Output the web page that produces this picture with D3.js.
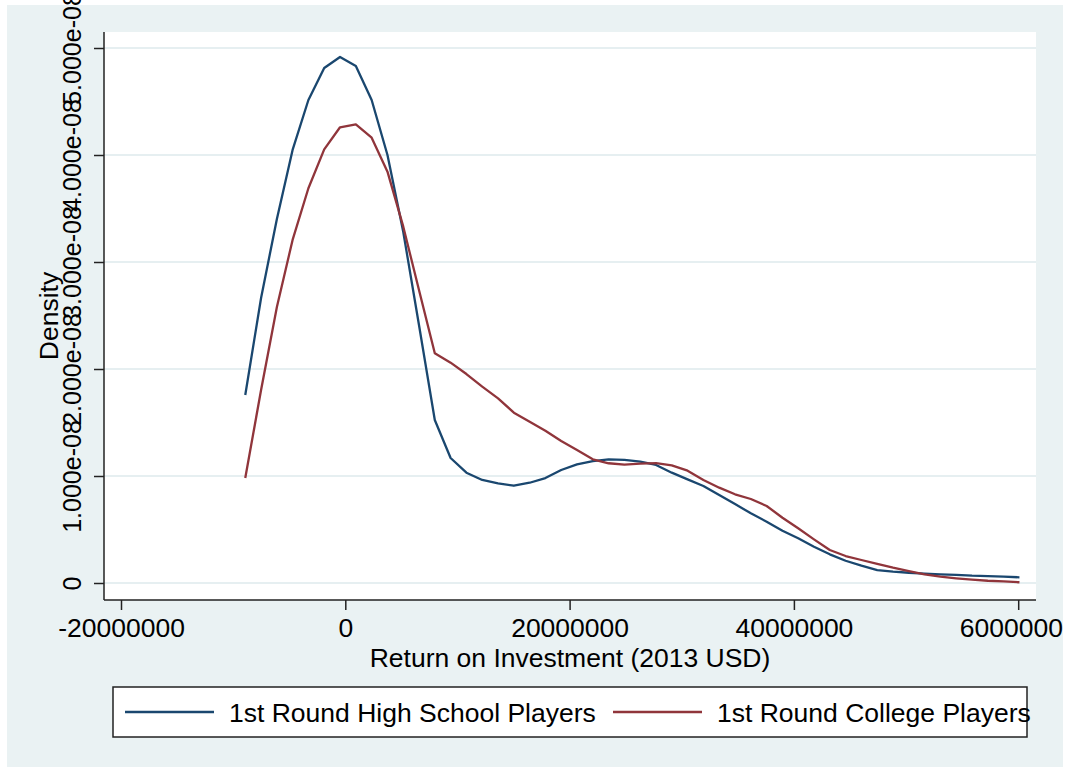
<!DOCTYPE html>
<html>
<head>
<meta charset="utf-8">
<script src="https://cdn.jsdelivr.net/npm/d3@7"></script>
<style>
  html, body { margin: 0; padding: 0; background: #ffffff; }
  svg { display: block; }
  text { font-family: "Liberation Sans", Arial, Helvetica, sans-serif; fill: #000; }
</style>
</head>
<body>
<svg id="chart" width="1071" height="771"></svg>
<script>
// ---- data ----
const roiGrid = [
  -8920000, -7510000, -6100000, -4700000, -3290000, -1880000, -470000, 940000, 2350000, 3760000,
  5170000, 6570000, 7980000, 9390000, 10800000, 12210000, 13620000, 15030000, 16440000, 17840000,
  19250000, 20660000, 22070000, 23480000, 24890000, 26300000, 27710000, 29110000, 30520000, 31930000,
  33340000, 34750000, 36160000, 37570000, 38980000, 40380000, 41790000, 43200000, 44610000, 46020000,
  47430000, 48840000, 50250000, 51650000, 53060000, 54470000, 55880000, 57290000, 58700000, 60110000
];
const highSchoolDensity = [
  1.757e-8, 2.664e-8, 3.402e-8, 4.047e-8, 4.514e-8, 4.813e-8, 4.916e-8, 4.832e-8, 4.514e-8, 4.000e-8,
  3.280e-8, 2.411e-8, 1.523e-8, 1.168e-8, 1.031e-8, 0.963e-8, 0.932e-8, 0.909e-8, 0.937e-8, 0.981e-8,
  1.056e-8, 1.109e-8, 1.140e-8, 1.156e-8, 1.150e-8, 1.134e-8, 1.103e-8, 1.031e-8, 0.969e-8, 0.907e-8,
  0.822e-8, 0.738e-8, 0.651e-8, 0.573e-8, 0.489e-8, 0.418e-8, 0.339e-8, 0.268e-8, 0.208e-8, 0.162e-8,
  0.121e-8, 0.106e-8, 0.096e-8, 0.087e-8, 0.081e-8, 0.075e-8, 0.068e-8, 0.065e-8, 0.059e-8, 0.053e-8
];
const collegeDensity = [
  0.981e-8, 1.804e-8, 2.579e-8, 3.206e-8, 3.689e-8, 4.053e-8, 4.259e-8, 4.287e-8, 4.162e-8, 3.844e-8,
  3.330e-8, 2.738e-8, 2.147e-8, 2.059e-8, 1.953e-8, 1.835e-8, 1.726e-8, 1.592e-8, 1.507e-8, 1.423e-8,
  1.327e-8, 1.243e-8, 1.156e-8, 1.119e-8, 1.106e-8, 1.115e-8, 1.121e-8, 1.100e-8, 1.050e-8, 0.963e-8,
  0.891e-8, 0.829e-8, 0.785e-8, 0.720e-8, 0.610e-8, 0.511e-8, 0.408e-8, 0.308e-8, 0.252e-8, 0.215e-8,
  0.178e-8, 0.143e-8, 0.112e-8, 0.081e-8, 0.059e-8, 0.044e-8, 0.031e-8, 0.021e-8, 0.016e-8, 0.007e-8
];
const seriesNames = ["1st Round High School Players", "1st Round College Players"];
const seriesColors = ["#1a476f", "#90353b"];
const xTicks = [-20000000, 0, 20000000, 40000000, 60000000];
const xTickLabels = ["-20000000", "0", "20000000", "40000000", "60000000"];
const yTicks = [0, 1e-8, 2e-8, 3e-8, 4e-8, 5e-8];
const yTickLabels = ["0", "1.000e-08", "2.000e-08", "3.000e-08", "4.000e-08", "5.000e-08"];
const xTitle = "Return on Investment (2013 USD)";
const yTitle = "Density";

// ---- layout ----
const svg = d3.select("#chart");
const bg = { x: 7, y: 5, w: 1056, h: 762 };
const plot = { left: 104, right: 1036, top: 32, bottom: 600 };
const fs = 26.5;

svg.append("defs").append("clipPath").attr("id", "bgclip")
  .append("rect").attr("x", 0).attr("y", 0).attr("width", bg.x + bg.w).attr("height", 771);

svg.append("rect").attr("x", bg.x).attr("y", bg.y).attr("width", bg.w).attr("height", bg.h)
  .attr("fill", "#eaf2f3");
svg.append("rect").attr("x", plot.left).attr("y", plot.top)
  .attr("width", plot.right - plot.left).attr("height", plot.bottom - plot.top)
  .attr("fill", "#ffffff");

const x = d3.scaleLinear().domain([-20000000, 60000000]).range([121, 1018.2]);
const y = d3.scaleLinear().domain([0, 5e-8]).range([583, 48]);

// gridlines
svg.append("g").selectAll("line").data(yTicks).join("line")
  .attr("x1", plot.left).attr("x2", plot.right)
  .attr("y1", d => y(d)).attr("y2", d => y(d))
  .attr("stroke", "#e6eff1").attr("stroke-width", 1.8);

// curves
const line = d3.line().x((d, i) => x(roiGrid[i])).y(d => y(d));
[highSchoolDensity, collegeDensity].forEach((s, k) => {
  svg.append("path").datum(s).attr("d", line)
    .attr("fill", "none").attr("stroke", seriesColors[k]).attr("stroke-width", 2.3)
    .attr("stroke-linejoin", "round");
});

const root = svg.append("g").attr("clip-path", "url(#bgclip)");

// x axis
const xAxis = d3.axisBottom(x).tickValues(xTicks).tickSize(10).tickPadding(4)
  .tickFormat((d, i) => xTickLabels[i]);
const gx = root.append("g").attr("transform", `translate(0,${plot.bottom})`).call(xAxis);
gx.select(".domain").attr("d", `M${plot.left},0H${plot.right}`).attr("stroke", "#222").attr("stroke-width", 1.5);
gx.selectAll(".tick line").attr("stroke", "#222").attr("stroke-width", 1.5);
gx.selectAll(".tick text").attr("font-size", fs).attr("font-family", "Liberation Sans, Arial, sans-serif")
  .attr("dy", null).attr("y", 37);

// y axis
const yAxis = d3.axisLeft(y).tickValues(yTicks).tickSize(10)
  .tickFormat((d, i) => yTickLabels[i]);
const gy = root.append("g").attr("transform", `translate(${plot.left},0)`).call(yAxis);
gy.select(".domain").attr("d", `M0,${plot.top}V${plot.bottom}`).attr("stroke", "#222").attr("stroke-width", 1.5);
gy.selectAll(".tick line").attr("stroke", "#222").attr("stroke-width", 1.5);
gy.selectAll(".tick text")
  .attr("font-size", 25).attr("font-family", "Liberation Sans, Arial, sans-serif")
  .attr("x", null).attr("dy", null).attr("text-anchor", "middle")
  .attr("transform", "translate(-23,0) rotate(-90)");

// titles
root.append("text").attr("x", (plot.left + plot.right) / 2).attr("y", 667)
  .attr("text-anchor", "middle").attr("font-size", fs).text(xTitle);
root.append("text").attr("transform", `translate(58,${(plot.top + plot.bottom) / 2}) rotate(-90)`)
  .attr("text-anchor", "middle").attr("font-size", fs).text(yTitle);

// legend
const leg = root.append("g");
leg.append("rect").attr("x", 113).attr("y", 687).attr("width", 914).attr("height", 50)
  .attr("fill", "#ffffff").attr("stroke", "#222").attr("stroke-width", 1.5);
const legItems = [
  { lx: 125, tx: 229 },
  { lx: 613, tx: 717 }
];
legItems.forEach((p, k) => {
  leg.append("line").attr("x1", p.lx).attr("x2", p.lx + 89).attr("y1", 712).attr("y2", 712)
    .attr("stroke", seriesColors[k]).attr("stroke-width", 2.3);
  leg.append("text").attr("x", p.tx).attr("y", 721.5).attr("font-size", fs).text(seriesNames[k]);
});
</script>
</body>
</html>
